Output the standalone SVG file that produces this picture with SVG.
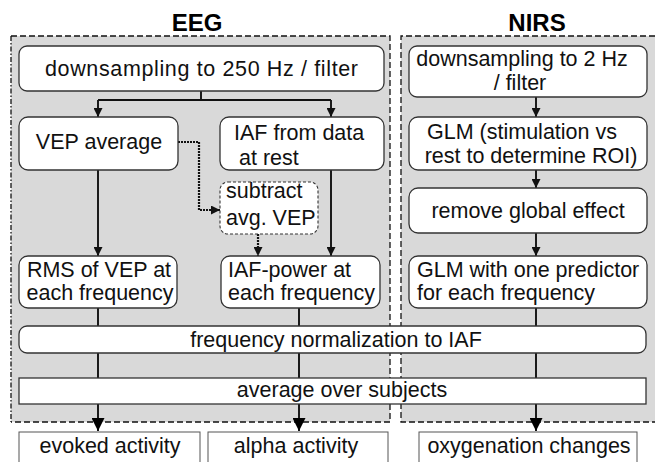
<svg xmlns="http://www.w3.org/2000/svg" width="655" height="462" viewBox="0 0 655 462">
  <style>
    .panel { fill: #d9d9d9; stroke: none; }
    .edge { fill: none; stroke: #111; stroke-width: 1.3; stroke-dasharray: 6 3; }
    .edge-dd { fill: none; stroke: #111; stroke-width: 1.3; stroke-dasharray: 5 2 1.5 2; }
    .box { fill: #fff; stroke: #333; stroke-width: 1.3; }
    .box-dash { fill: #fff; stroke: #333; stroke-width: 1.1; stroke-dasharray: 3 2; }
    .out { fill: #fff; stroke: #555; stroke-width: 1; }
    .t { font-family: "Liberation Sans", Arial, sans-serif; font-size: 21.5px; fill: #111; }
    .mid { text-anchor: middle; }
    .title { font-family: "Liberation Sans", Arial, sans-serif; font-size: 24px; font-weight: bold; fill: #000; text-anchor: middle; }
    .wire { fill: none; stroke: #111; stroke-width: 1.9; }
    .dot { fill: none; stroke: #111; stroke-width: 2.2; stroke-dasharray: 2 1; }
  </style>
  <defs>
    <marker id="arrow" viewBox="0 0 10 10" refX="10" refY="5" markerUnits="userSpaceOnUse" markerWidth="9" markerHeight="9" orient="auto">
      <path d="M0,0 L10,5 L0,10 z" fill="#111"/>
    </marker>
    <marker id="arrow-big" viewBox="0 0 10 10" refX="10" refY="5" markerUnits="userSpaceOnUse" markerWidth="13" markerHeight="13" orient="auto">
      <path d="M0,0 L10,5 L0,10 z" fill="#000"/>
    </marker>
  </defs>

  <!-- panel backgrounds and borders -->
  <g id="panel-eeg">
    <rect class="panel" x="11" y="36" width="379" height="386"/>
    <path class="edge" d="M11,36 H390 V422 H11"/>
    <path class="edge-dd" d="M11,36 V422"/>
    <text class="title" x="197" y="31">EEG</text>
  </g>
  <g id="panel-nirs">
    <rect class="panel" x="401" y="36" width="254" height="386"/>
    <path class="edge" d="M655,36 H401 V422 H655"/>
    <text class="title" x="537" y="31">NIRS</text>
  </g>

  <!-- connectors -->
  <g id="connectors">
    <path class="wire" d="M201,91 V100 M98,100 H331"/>
    <path class="wire" d="M98,100 V117" marker-end="url(#arrow)"/>
    <path class="wire" d="M331,100 V117" marker-end="url(#arrow)"/>
    <path class="wire" d="M98,170 V256" marker-end="url(#arrow)"/>
    <path class="wire" d="M331,170 V256" marker-end="url(#arrow)"/>
    <path class="dot" d="M178,142 H199 V210 H220" marker-end="url(#arrow)"/>
    <path class="dot" d="M258,234 V256" marker-end="url(#arrow)"/>
    <path class="wire" d="M98,308 V326 M299,308 V326 M98,353 V378 M299,353 V378"/>
    <path class="wire" d="M98,404 V431" marker-end="url(#arrow-big)"/>
    <path class="wire" d="M299,404 V431" marker-end="url(#arrow-big)"/>
    <path class="wire" d="M536,97 V117" marker-end="url(#arrow)"/>
    <path class="wire" d="M536,170 V188" marker-end="url(#arrow)"/>
    <path class="wire" d="M536,233 V256" marker-end="url(#arrow)"/>
    <path class="wire" d="M536,308 V326 M536,353 V378"/>
    <path class="wire" d="M536,404 V431" marker-end="url(#arrow-big)"/>
  </g>

  <!-- EEG steps -->
  <g id="eeg-downsample">
    <rect class="box" x="19" y="46" width="365" height="45" rx="8"/>
    <text class="t" x="45" y="76" textLength="313" lengthAdjust="spacing">downsampling to 250 Hz / filter</text>
  </g>
  <g id="vep-average">
    <rect class="box" x="19" y="117" width="159" height="53" rx="9"/>
    <text class="t mid" x="99" y="149">VEP average</text>
  </g>
  <g id="iaf-rest">
    <rect class="box" x="220" y="117" width="164" height="53" rx="9"/>
    <text class="t" x="234" y="140">IAF from data</text>
    <text class="t" x="239" y="165">at rest</text>
  </g>
  <g id="subtract-vep">
    <rect class="box-dash" x="220" y="182" width="98" height="52" rx="8"/>
    <text class="t" x="226" y="198">subtract</text>
    <text class="t" x="226" y="225">avg. VEP</text>
  </g>
  <g id="rms-vep">
    <rect class="box" x="19" y="256" width="158" height="52" rx="9"/>
    <text class="t mid" x="99" y="277">RMS of VEP at</text>
    <text class="t mid" x="100" y="300">each frequency</text>
  </g>
  <g id="iaf-power">
    <rect class="box" x="221" y="256" width="159" height="52" rx="9"/>
    <text class="t" x="228" y="277">IAF-power at</text>
    <text class="t" x="228" y="300">each frequency</text>
  </g>

  <!-- shared steps -->
  <g id="freq-norm">
    <rect class="box" x="19" y="326" width="627" height="27" rx="8"/>
    <text class="t mid" x="336" y="347">frequency normalization to IAF</text>
  </g>
  <g id="avg-subjects">
    <rect class="box" x="19" y="378" width="627" height="26"/>
    <text class="t mid" x="342" y="397">average over subjects</text>
  </g>

  <!-- NIRS steps -->
  <g id="nirs-downsample">
    <rect class="box" x="409" y="46" width="238" height="51" rx="8"/>
    <text class="t mid" x="522" y="66">downsampling to 2 Hz</text>
    <text class="t mid" x="520" y="90">/ filter</text>
  </g>
  <g id="glm-roi">
    <rect class="box" x="409" y="117" width="238" height="53" rx="9"/>
    <text class="t mid" x="522" y="139">GLM (stimulation vs</text>
    <text class="t mid" x="531" y="163">rest to determine ROI)</text>
  </g>
  <g id="global-effect">
    <rect class="box" x="409" y="188" width="238" height="45" rx="9"/>
    <text class="t mid" x="528" y="218">remove global effect</text>
  </g>
  <g id="glm-freq">
    <rect class="box" x="409" y="256" width="238" height="52" rx="9"/>
    <text class="t" x="417" y="277">GLM with one predictor</text>
    <text class="t" x="417" y="300">for each frequency</text>
  </g>

  <!-- outputs -->
  <g id="out-evoked">
    <rect class="out" x="19" y="432" width="181" height="40"/>
    <text class="t mid" x="110" y="453">evoked activity</text>
  </g>
  <g id="out-alpha">
    <rect class="out" x="208" y="432" width="180" height="40"/>
    <text class="t mid" x="296" y="453">alpha activity</text>
  </g>
  <g id="out-oxy">
    <rect class="out" x="419" y="432" width="218" height="40"/>
    <text class="t mid" x="529" y="453">oxygenation changes</text>
  </g>
</svg>
